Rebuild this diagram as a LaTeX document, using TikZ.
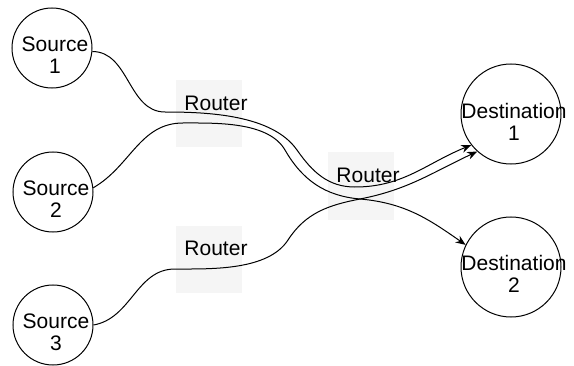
\documentclass[tikz,border=0pt]{standalone}
\usepackage{fontspec}
\setmainfont{Liberation Sans}
\usetikzlibrary{arrows.meta,calc}
\definecolor{gris}{HTML}{F5F5F5}

\begin{document}
\begin{tikzpicture}[x=0.5pt,y=0.5pt]
\tikzset{hote/.style={draw, circle, inner sep=0pt, minimum size=40pt, line width=0.5pt},
  dest/.style={hote, minimum size=50pt},
  txt/.style={align=center, font=\fontsize{10.5}{11}\selectfont, inner sep=0pt},
  routeur/.style={fill=gris, minimum width=33pt, minimum height=33.5pt, inner sep=0pt},
  lien/.style={line width=0.5pt, -{Stealth[length=5pt,width=4pt]}}}
\useasboundingbox (0,0) rectangle (574,365);
\node[routeur, label={[txt, xshift=3.5pt, yshift=5.5pt]center:Router}] (R1) at (209,251) {};
\node[routeur, label={[txt, xshift=3.5pt, yshift=5.5pt]center:Router}] (R2) at (209,106) {};
\node[routeur, label={[txt, xshift=3.5pt, yshift=5.5pt]center:Router}] (R3) at (361,179) {};
\node[hote, label={[txt, xshift=1.5pt, yshift=-3.5pt]center:Source\\1}] (S1) at (52,317) {};
\node[hote, label={[txt, xshift=1.5pt, yshift=-3.5pt]center:Source\\2}] (S2) at (53,173) {};
\node[hote, label={[txt, xshift=1.5pt, yshift=-3.5pt]center:Source\\3}] (S3) at (53,40) {};
\node[dest, label={[txt, xshift=1.5pt, yshift=-4pt]center:Destination\\1}] (D1) at (511,251) {};
\node[dest, label={[txt, xshift=1.5pt, yshift=-3.5pt]center:Destination\\2}] (D2) at (511,98) {};
\draw[lien] (S1.-5) to[out=0,in=180] ($(R1)+(-44,2)$)
  to[out=0,in=125,looseness=0.8] ($(R1)+(88,-36)$)
  to[out=-55,in=180] ($(R3)+(-6,-1)$) to[out=0,in=202] (D1.218);
\draw[lien] (S2.6) to[out=30,in=180] ($(R1)+(-26,-9)$)
  to[out=0,in=120,looseness=0.8] ($(R1)+(76,-36)$)
  to[out=-60,in=175] ($(R3)+(-1,-13)$) to[out=-5,in=145] (D2.154);
\draw[lien] (S3.east) to[out=10,in=180] ($(R2)+(-34,-10)$)
  to[out=0,in=237,looseness=0.8] ($(R2)+(79,19)$)
  to[out=57,in=191] ($(R3)+(-1,-13)$) to[out=11,in=205] (D1.228);
\end{tikzpicture}
\end{document}
